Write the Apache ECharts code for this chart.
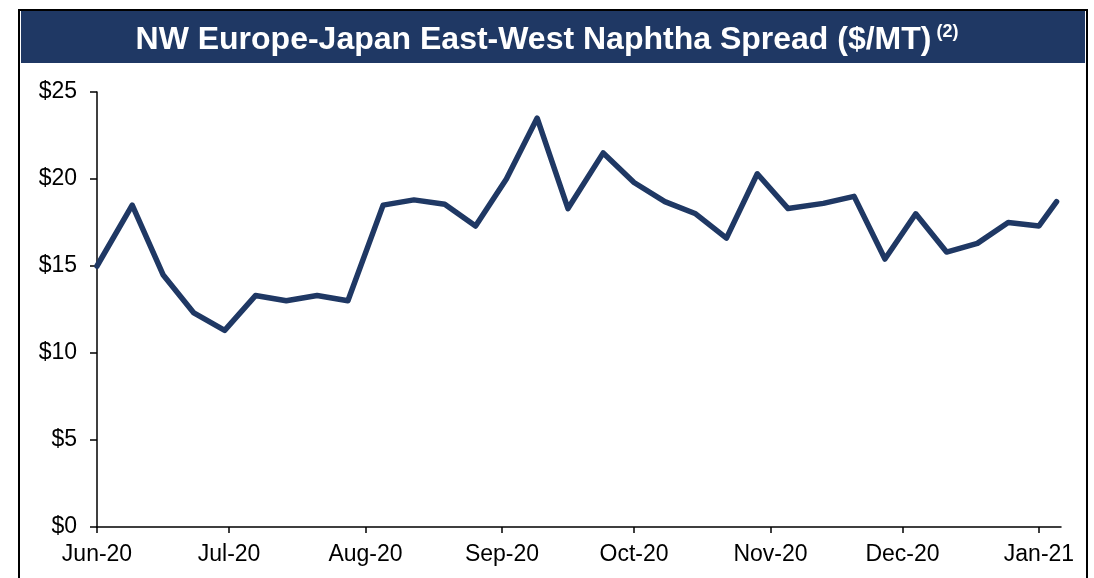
<!DOCTYPE html>
<html>
<head>
<meta charset="utf-8">
<script src="https://cdn.jsdelivr.net/npm/echarts@6/dist/echarts.min.js"></script>
<style>
html,body{margin:0;padding:0;background:#fff;}
#c{width:1094px;height:578px;}
</style>
</head>
<body>
<div id="c"></div>
<script>
const titleText = 'NW Europe-Japan East-West Naphtha Spread ($/MT)';
const titleNote = '(2)';
const dates = ['2020-06-01','2020-06-09','2020-06-16','2020-06-23','2020-06-30','2020-07-07','2020-07-14','2020-07-21','2020-07-28','2020-08-05','2020-08-12','2020-08-19','2020-08-26','2020-09-02','2020-09-09','2020-09-16','2020-09-24','2020-10-01','2020-10-08','2020-10-15','2020-10-22','2020-10-29','2020-11-05','2020-11-13','2020-11-20','2020-11-27','2020-12-04','2020-12-11','2020-12-18','2020-12-25','2021-01-01','2021-01-05'];
const values = [15.0,18.5,14.5,12.3,11.3,13.3,13.0,13.3,13.0,18.5,18.8,18.55,17.3,20.0,23.5,18.3,21.5,19.8,18.7,18.0,16.6,20.3,18.3,18.6,19.0,15.4,18.0,15.8,16.3,17.5,17.3,18.7];
const yMin = 0, yMax = 25, yStep = 5;
const xMin = '2020-06-01', xMax = '2021-01-06';
const monthNames = ['Jan','Feb','Mar','Apr','May','Jun','Jul','Aug','Sep','Oct','Nov','Dec'];

const navy = '#1F3864';
const chart = echarts.init(document.getElementById('c'));
chart.setOption({
  animation: false,
  backgroundColor: '#fff',
  textStyle: { fontFamily: 'Liberation Sans, Arial, sans-serif' },
  graphic: [
    { type: 'rect', shape: { x: 19, y: 10, width: 1068, height: 600 }, style: { fill: 'none', stroke: '#000', lineWidth: 2 }, silent: true, z: 0 },
    { type: 'rect', shape: { x: 21, y: 11, width: 1064, height: 52 }, style: { fill: navy }, silent: true, z: 1 }
  ],
  title: {
    text: '{a|' + titleText + '} {b|' + titleNote + '}',
    left: 'center',
    top: 18,
    textStyle: {
      rich: {
        a: { fontFamily: 'Liberation Sans', fontWeight: 'bold', fontSize: 32, color: '#fff', lineHeight: 34 },
        b: { fontFamily: 'Liberation Sans', fontWeight: 'bold', fontSize: 18, color: '#fff', verticalAlign: 'top', lineHeight: 34, padding: [0, 0, 12, 0] }
      }
    },
    z: 10
  },
  grid: { left: 97, right: 33, top: 92, bottom: 51, containLabel: false },
  xAxis: {
    type: 'time',
    min: xMin,
    max: xMax,
    splitNumber: 7,
    minInterval: 28 * 86400000,
    maxInterval: 31 * 86400000,
    axisLine: { show: true, lineStyle: { color: '#000', width: 1.5 } },
    axisTick: { show: true, length: 6, lineStyle: { color: '#000', width: 1.5 } },
    splitLine: { show: false },
    axisLabel: {
      color: '#000', fontSize: 23, margin: 16, showMaxLabel: false,
      formatter: function (v) { const d = new Date(v); return monthNames[d.getMonth()] + '-' + String(d.getFullYear()).slice(2); }
    }
  },
  yAxis: {
    type: 'value',
    min: yMin, max: yMax, interval: yStep,
    axisLine: { show: true, lineStyle: { color: '#000', width: 1.5 } },
    axisTick: { show: true, length: 7, lineStyle: { color: '#000', width: 1.5 } },
    splitLine: { show: false },
    axisLabel: { color: '#000', fontSize: 23, margin: 20, formatter: function (v) { return '$' + v; } }
  },
  series: [{
    type: 'line',
    data: dates.map((d, i) => [d, values[i]]),
    showSymbol: false,
    symbol: 'none',
    lineStyle: { color: navy, width: 5.5, cap: 'round', join: 'round' },
    z: 5
  }]
});
</script>
</body>
</html>
